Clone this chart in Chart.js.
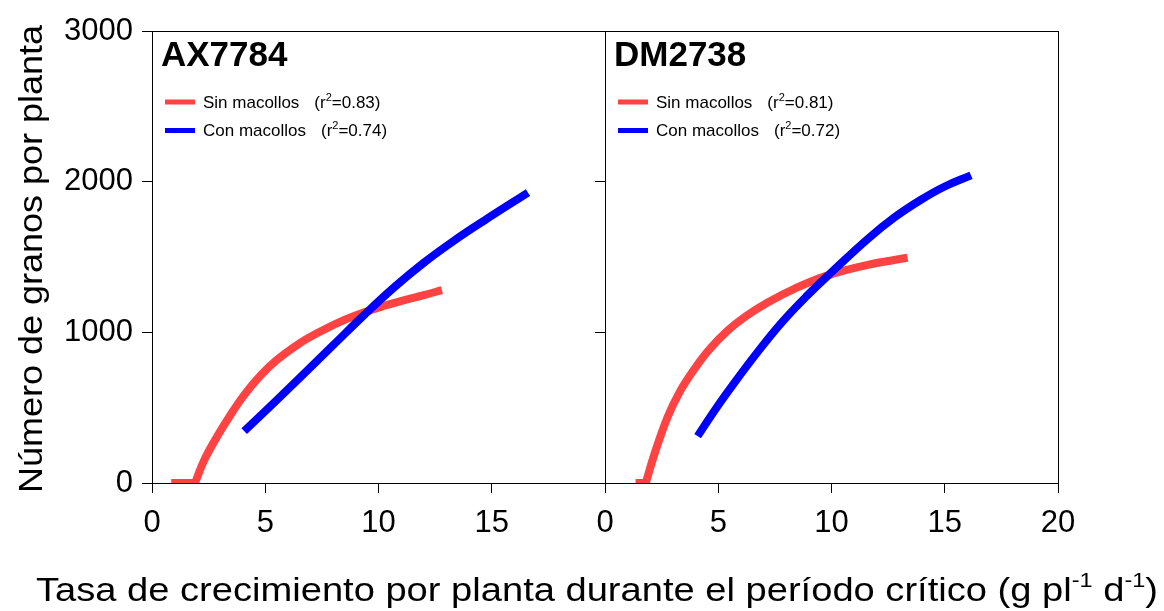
<!DOCTYPE html>
<html><head><meta charset="utf-8">
<script src="https://cdn.jsdelivr.net/npm/chart.js@4/dist/chart.umd.min.js"></script>
<style>
html,body{margin:0;padding:0;background:#fff;}
#wrap{position:relative;width:1164px;height:611px;overflow:hidden;background:#fff;}
canvas{position:absolute;left:0;top:0;}
</style></head><body>
<div id="wrap"><canvas id="c1" width="1164" height="611"></canvas><canvas id="c2" width="1164" height="611"></canvas></div>
<script>
// ---- data ----
const panelTitles = ['AX7784', 'DM2738'];
const seriesLabels = ['Sin macollos', 'Con macollos'];
const r2Left = ['0.83', '0.74'];
const r2Right = ['0.81', '0.72'];
const xTickValues = [0, 5, 10, 15, 20];
const xTickLabelsLeft = ['0', '5', '10', '15', ''];
const xTickLabelsRight = ['0', '5', '10', '15', '20'];
const yTickValues = [0, 1000, 2000, 3000];
const yTickLabelsLeft = ['0', '1000', '2000', '3000'];
const yTickLabelsRight = ['', '', '', ''];
const yTitle = 'Número de granos por planta';
const xTitleParts = [['Tasa de crecimiento por planta durante el período crítico (g pl', 0], ['-1', 1], [' d', 0], ['-1', 1], [')', 0]];

// "Sin macollos": flat at 0, then a sharp corner where the fitted curve starts (null = break in the line)
const axSinX = [0.85, 1.9, 1.9, 1.9, 2.3, 2.9, 3.5, 4.1, 4.8, 5.5, 6.5, 7.3, 8.3, 9.4, 10.3, 11.1, 12.0, 12.8];
const axSinY = [0, 0, null, 0, 150, 315, 460, 590, 715, 815, 925, 995, 1070, 1135, 1178, 1212, 1247, 1280];
const axConX = [4.07, 5.3, 6.6, 8.0, 9.4, 10.7, 12.0, 13.3, 14.7, 16.6];
const axConY = [344, 520, 710, 915, 1120, 1300, 1462, 1605, 1745, 1927];
const dmSinX = [1.35, 1.8, 1.8, 1.8, 2.2, 2.77, 3.3, 3.94, 4.6, 5.42, 6.2, 7.18, 8.4, 9.83, 11.6, 13.36];
const dmSinY = [0, 0, null, 0, 200, 440, 605, 755, 885, 1012, 1105, 1198, 1292, 1378, 1448, 1495];
const dmConX = [4.09, 4.9, 5.71, 6.7, 7.77, 8.9, 9.98, 11.6, 12.8, 13.95, 15.0, 16.16];
const dmConY = [311, 495, 665, 862, 1060, 1240, 1396, 1620, 1765, 1880, 1968, 2042];

// ---- styles ----
const FONT = "'Liberation Sans', Arial, Helvetica, sans-serif";
const RED = '#FF4343';
const BLUE = '#0000FF';

function pts(xs, ys) { return xs.map((x, i) => ({ x: x, y: ys[i] })); }

function lineDs(label, xs, ys, color, order) {
  return {
    label: label, data: pts(xs, ys), borderColor: color, backgroundColor: color,
    borderWidth: 8, pointRadius: 0, pointHoverRadius: 0, fill: false, spanGaps: false,
    tension: 0.4, borderCapStyle: 'butt', borderJoinStyle: 'round', order: order
  };
}

function decoPlugin(title, r2) {
  return {
    id: 'deco',
    afterDraw(chart) {
      const ctx = chart.ctx, a = chart.chartArea;
      ctx.save();
      ctx.strokeStyle = '#000'; ctx.lineWidth = 1;
      ctx.beginPath();
      ctx.moveTo(a.left, Math.round(a.top) + 0.5);
      ctx.lineTo(Math.round(a.right) + 1, Math.round(a.top) + 0.5);
      ctx.moveTo(Math.round(a.right) + 0.5, Math.round(a.top));
      ctx.lineTo(Math.round(a.right) + 0.5, Math.round(a.bottom) + 1);
      ctx.stroke();
      ctx.fillStyle = '#000';
      ctx.font = 'bold 35px ' + FONT;
      ctx.textAlign = 'left'; ctx.textBaseline = 'alphabetic';
      ctx.fillText(title, a.left + 9, 66);
      const ds = chart.data.datasets;
      const rows = [{ y: 102, base: 107.5 }, { y: 130.5, base: 136 }];
      for (let i = 0; i < ds.length; i++) {
        const r = rows[i];
        ctx.strokeStyle = ds[i].borderColor; ctx.lineWidth = 5; ctx.lineCap = 'butt';
        ctx.beginPath(); ctx.moveTo(a.left + 13, r.y); ctx.lineTo(a.left + 43, r.y); ctx.stroke();
        ctx.fillStyle = '#000';
        ctx.font = '17px ' + FONT;
        const tx = a.left + 51;
        ctx.fillText(ds[i].label, tx, r.base);
        let x = tx + ctx.measureText(ds[i].label).width + 15;
        ctx.fillText('(r', x, r.base); x += ctx.measureText('(r').width;
        ctx.font = '11px ' + FONT;
        ctx.fillText('2', x, r.base - 7); x += ctx.measureText('2').width;
        ctx.font = '17px ' + FONT;
        ctx.fillText('=' + r2[i] + ')', x, r.base);
      }
      ctx.restore();
    }
  };
}

const axisTitlePlugin = {
  id: 'axisTitles',
  afterDraw(chart) {
    const ctx = chart.ctx;
    ctx.save();
    ctx.fillStyle = '#000';
    ctx.textAlign = 'left'; ctx.textBaseline = 'alphabetic';
    const ySize = 34;
    ctx.font = ySize + 'px ' + FONT;
    const yw = ctx.measureText(yTitle).width;
    ctx.save();
    ctx.translate(42, 493);
    ctx.rotate(-Math.PI / 2);
    ctx.scale((493 - 25) / yw, 1);
    ctx.fillText(yTitle, 0, 0);
    ctx.restore();
    const xs = 34, sup = 21;
    let total = 0;
    xTitleParts.forEach(p => { ctx.font = (p[1] ? sup : xs) + 'px ' + FONT; total += ctx.measureText(p[0]).width; });
    const x0 = 36, x1 = 1158;
    ctx.save();
    ctx.translate(x0, 601);
    ctx.scale((x1 - x0) / total, 1);
    let x = 0;
    xTitleParts.forEach(p => {
      ctx.font = (p[1] ? sup : xs) + 'px ' + FONT;
      ctx.fillText(p[0], x, p[1] ? -14 : 0);
      x += ctx.measureText(p[0]).width;
    });
    ctx.restore();
    ctx.restore();
  }
};

function makeScales(xLabels, yLabels, yWidth) {
  const common = {
    type: 'linear',
    grid: { display: true, drawOnChartArea: false, drawTicks: true, tickLength: 10, color: '#000', tickColor: '#000', lineWidth: 1 },
    border: { display: true, color: '#000', width: 1 },
  };
  return {
    x: Object.assign({}, common, {
      min: 0, max: 20,
      afterBuildTicks: s => { s.ticks = xTickValues.map(v => ({ value: v })); },
      afterFit: s => { s.height = 60; },
      ticks: { color: '#000', font: { family: FONT, size: 31 }, padding: 12, maxRotation: 0, autoSkip: false,
        callback: (v, i) => xLabels[i] }
    }),
    y: Object.assign({}, common, {
      min: 0, max: 3000,
      afterBuildTicks: s => { s.ticks = yTickValues.map(v => ({ value: v })); },
      afterFit: s => { s.width = yWidth; },
      ticks: { color: '#000', font: { family: FONT, size: 31 }, padding: 9, autoSkip: false,
        callback: (v, i) => yLabels[i] }
    })
  };
}

function makeChart(id, title, r2, sinX, sinY, conX, conY, xLabels, yLabels, yWidth, pad, extraPlugins) {
  return new Chart(document.getElementById(id), {
    type: 'line',
    data: {
      datasets: [
        lineDs(seriesLabels[0], sinX, sinY, RED, 1),
        lineDs(seriesLabels[1], conX, conY, BLUE, 0)
      ]
    },
    options: {
      responsive: false, animation: false, devicePixelRatio: 1,
      events: [],
      layout: { padding: pad },
      plugins: { legend: { display: false }, tooltip: { enabled: false }, title: { display: false } },
      scales: makeScales(xLabels, yLabels, yWidth)
    },
    plugins: [decoPlugin(title, r2)].concat(extraPlugins)
  });
}

makeChart('c1', panelTitles[0], r2Left, axSinX, axSinY, axConX, axConY, xTickLabelsLeft, yTickLabelsLeft, 152,
  { left: 0, right: 1164 - 605, top: 31, bottom: 611 - 483 - 60 }, [axisTitlePlugin]);
makeChart('c2', panelTitles[1], r2Right, dmSinX, dmSinY, dmConX, dmConY, xTickLabelsRight, yTickLabelsRight, 20,
  { left: 605 - 20, right: 1164 - 1058, top: 31, bottom: 611 - 483 - 60 }, []);
</script>
</body></html>
